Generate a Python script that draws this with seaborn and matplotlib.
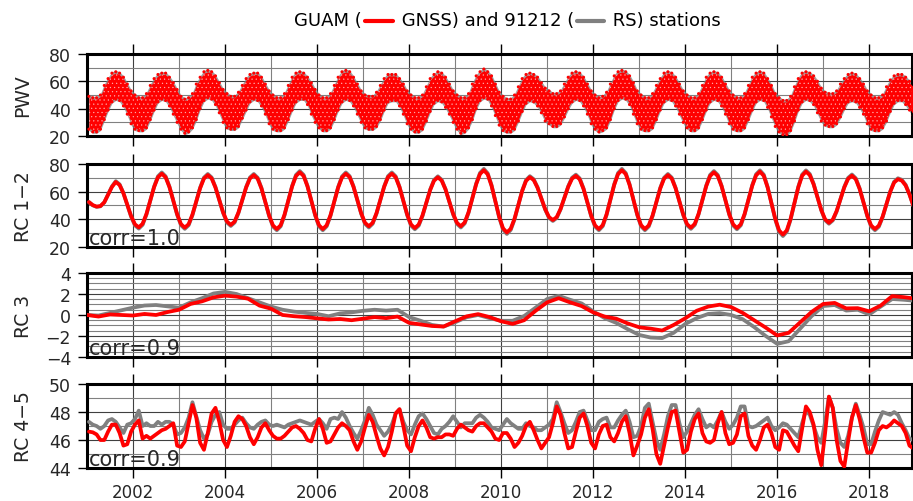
import numpy as np
import matplotlib
matplotlib.use("Agg")
import matplotlib.pyplot as plt
import seaborn as sns
from matplotlib.lines import Line2D
from matplotlib.ticker import MultipleLocator
from matplotlib.offsetbox import TextArea, DrawingArea, HPacker, AnchoredOffsetbox

# ---- data ----
# monthly values, one row per year 2001..2018 (mid-month samples)
pwv_gnss_lo = [
    [26,24,24,26,33,40,46,48,47,43,37,30], [26,25,25,27,33,40,46,48,47,43,37,31],
    [26,23,24,27,33,41,47,49,48,44,38,31], [27,26,26,28,34,40,46,48,47,43,37,30],
    [26,25,25,27,33,40,46,48,48,44,37,31], [27,25,25,27,33,40,46,48,47,43,37,31],
    [27,26,26,28,33,40,46,47,47,43,37,30], [26,24,24,26,32,39,45,47,46,42,37,31],
    [26,23,24,27,33,41,47,49,48,43,36,29], [25,24,24,26,32,39,45,47,46,43,38,32],
    [30,28,28,30,35,41,46,48,47,43,37,30], [26,24,25,27,33,41,47,49,48,44,37,30],
    [26,25,25,27,33,40,46,48,47,43,37,31], [27,25,25,27,33,40,46,48,47,43,37,30],
    [26,25,25,27,33,40,46,48,47,42,35,28], [24,22,22,25,32,40,46,48,47,44,38,32],
    [29,28,28,30,35,41,46,47,46,42,37,30], [26,25,25,27,32,39,45,47,47,44,40,36],
]
pwv_gnss_hi = [
    [48,47,47,49,56,61,65,66,65,62,57,52], [49,47,47,50,56,61,64,65,65,62,58,53],
    [48,46,47,50,57,62,66,67,66,63,58,53], [50,48,48,51,56,61,64,65,65,62,57,52],
    [49,47,47,50,56,62,65,66,65,62,58,53], [49,47,47,50,56,62,66,67,66,62,57,52],
    [49,48,48,51,56,61,64,64,64,61,57,52], [49,47,47,49,55,61,64,66,65,62,57,52],
    [49,47,47,50,57,63,66,68,66,63,57,51], [48,46,46,49,55,61,64,65,64,62,58,54],
    [52,50,50,52,57,62,65,66,65,62,57,52], [49,47,48,51,57,63,66,67,66,63,58,52],
    [49,47,47,50,56,61,65,66,65,62,57,52], [49,47,47,50,56,62,65,66,65,62,57,52],
    [49,47,47,50,56,62,65,66,65,61,56,50], [47,45,45,48,55,61,65,66,65,63,59,54],
    [51,50,50,52,57,61,64,65,64,61,57,52], [49,47,47,49,55,60,63,64,64,62,59,56],
]
pwv_rs_lo = [
    [24,22,22,24,31,38,44,46,45,41,35,28], [24,23,23,25,31,38,44,46,45,41,35,29],
    [24,21,22,25,31,39,45,47,46,42,36,29], [25,24,24,26,32,38,44,46,45,41,35,28],
    [24,23,23,25,31,38,44,46,46,42,35,29], [25,23,23,25,31,38,44,46,45,41,35,29],
    [25,24,24,26,31,38,44,45,45,41,35,28], [24,22,22,24,30,37,43,45,44,40,35,29],
    [24,21,22,25,31,39,45,47,46,41,34,27], [23,22,22,24,30,37,43,45,44,41,36,30],
    [28,26,26,28,33,39,44,46,45,41,35,28], [24,22,23,25,31,39,45,47,46,42,35,28],
    [24,23,23,25,31,38,44,46,45,41,35,29], [25,23,23,25,31,38,44,46,45,41,35,28],
    [24,23,23,25,31,38,44,46,45,40,33,26], [22,20,20,23,30,38,44,46,45,42,36,30],
    [27,26,26,28,33,39,44,45,44,40,35,28], [24,23,23,25,30,37,43,45,45,42,38,34],
]
pwv_rs_hi = [
    [50,49,49,51,58,63,67,68,67,64,59,54], [51,49,49,52,58,63,66,67,67,64,60,55],
    [50,48,49,52,59,64,68,69,68,65,60,55], [52,50,50,53,58,63,66,67,67,64,59,54],
    [51,49,49,52,58,64,67,68,67,64,60,55], [51,49,49,52,58,64,68,69,68,64,59,54],
    [51,50,50,53,58,63,66,66,66,63,59,54], [51,49,49,51,57,63,66,68,67,64,59,54],
    [51,49,49,52,59,65,68,70,68,65,59,53], [50,48,48,51,57,63,66,67,66,64,60,56],
    [54,52,52,54,59,64,67,68,67,64,59,54], [51,49,50,53,59,65,68,69,68,65,60,54],
    [51,49,49,52,58,63,67,68,67,64,59,54], [51,49,49,52,58,64,67,68,67,64,59,54],
    [51,49,49,52,58,64,67,68,67,63,58,52], [49,47,47,50,57,63,67,68,67,65,61,56],
    [53,52,52,54,59,63,66,67,66,63,59,54], [51,49,49,51,57,62,65,66,66,64,61,58],
]

rc12_gnss = [
    [52.5,50.3,49.2,49.6,52.3,57.8,63.4,67.0,64.8,58.8,50.6,42.4],
    [36.4,34.2,36.8,43.9,53.6,63.3,70.4,73.0,70.4,63.3,53.5,43.8],
    [36.6,34.0,36.5,43.5,53.0,62.5,69.5,72.0,69.6,63.0,54.0,45.0],
    [38.4,36.0,38.4,45.0,54.0,63.0,69.6,72.0,69.4,62.3,52.5,42.8],
    [35.6,33.0,35.7,43.3,53.5,63.8,71.3,74.0,71.3,63.8,53.5,43.3],
    [35.7,33.0,35.7,43.0,53.0,63.0,70.3,73.0,70.5,63.5,54.0,44.5],
    [37.5,35.0,37.5,44.5,54.0,63.5,70.5,73.0,70.4,63.2,53.4,43.5],
    [36.3,33.7,36.2,42.9,52.1,61.2,67.9,70.4,68.0,61.6,52.7,43.9],
    [37.4,35.0,37.7,45.1,55.3,65.4,72.8,75.5,72.5,64.3,53.0,41.8],
    [33.5,30.5,33.2,40.5,50.5,60.5,67.8,70.5,68.4,62.8,55.0,47.3],
    [41.6,39.5,41.6,47.5,55.5,63.5,69.4,71.5,68.9,61.9,52.3,42.6],
    [35.6,33.0,35.8,43.6,54.3,64.9,72.7,75.5,72.7,64.9,54.3,43.6],
    [35.8,33.0,35.6,42.8,52.5,62.3,69.4,72.0,69.5,62.5,53.0,43.5],
    [36.5,34.0,36.7,44.0,54.0,64.0,71.3,74.0,71.3,63.9,53.9,43.8],
    [36.4,33.7,36.4,43.9,54.1,64.3,71.8,74.5,71.5,63.1,51.8,40.4],
    [32.0,29.0,32.0,40.4,51.8,63.1,71.5,74.5,72.0,65.3,56.0,46.8],
    [40.0,37.5,39.8,46.0,54.6,63.1,69.3,71.6,69.0,62.0,52.3,42.7],
    [35.6,33.0,35.4,42.0,51.0,60.0,66.6,69.0,68.0,64.5,58.0,50.0],
]
rc12_rs = [
    [52.4,50.1,49.0,49.4,52.2,58.0,63.8,67.6,65.3,59.0,50.4,41.9],
    [35.6,33.3,36.0,43.4,53.6,63.7,71.1,73.9,71.1,63.7,53.5,43.3],
    [35.8,33.1,35.7,43.0,53.0,62.9,70.2,72.8,70.3,63.4,54.0,44.6],
    [37.7,35.2,37.7,44.6,54.0,63.4,70.3,72.8,70.1,62.7,52.4,42.3],
    [34.8,32.1,34.9,42.8,53.5,64.2,72.1,74.9,72.1,64.2,53.5,42.8],
    [34.9,32.1,34.9,42.5,53.0,63.4,71.0,73.9,71.2,63.9,54.0,44.1],
    [36.8,34.1,36.8,44.1,54.0,63.9,71.2,73.9,71.1,63.6,53.4,43.0],
    [35.5,32.8,35.4,42.4,52.0,61.5,68.5,71.1,68.6,61.9,52.6,43.4],
    [36.7,34.1,37.0,44.7,55.4,65.9,73.6,76.5,73.3,64.8,53.0,41.3],
    [32.6,29.4,32.3,39.9,50.3,60.8,68.4,71.2,69.0,63.2,55.0,47.0],
    [41.0,38.8,41.0,47.2,55.6,63.9,70.1,72.3,69.6,62.3,52.2,42.1],
    [34.8,32.1,35.0,43.1,54.3,65.4,73.5,76.5,73.5,65.4,54.3,43.1],
    [35.0,32.1,34.8,42.3,52.4,62.7,70.1,72.8,70.2,62.9,53.0,43.0],
    [35.7,33.1,35.9,43.6,54.0,64.5,72.1,74.9,72.1,64.3,53.9,43.3],
    [35.6,32.8,35.6,43.4,54.1,64.8,72.6,75.4,72.3,63.5,51.7,39.8],
    [31.0,27.9,31.0,39.8,51.7,63.5,72.3,75.4,72.8,65.8,56.1,46.5],
    [39.4,36.8,39.2,45.6,54.6,63.5,70.0,72.4,69.7,62.4,52.2,42.2],
    [34.8,32.1,34.6,41.5,50.9,60.3,67.2,69.7,68.6,65.0,58.2,49.8],
]

rc45_gnss = [
    [46.6,46.55,46.4,46.0,46.0,46.6,47.1,47.1,46.5,45.6,45.7,46.6],
    [47.1,47.4,46.1,46.3,46.1,46.3,46.5,46.7,46.8,47.0,47.2,45.6],
    [45.5,45.9,47.2,48.5,47.6,45.8,45.3,46.5,47.9,48.3,47.3,46.0],
    [45.5,46.3,47.3,47.7,47.5,47.0,46.2,45.7,46.2,46.9,47.2,46.7],
    [46.3,46.1,46.1,46.3,46.6,46.9,47.0,46.8,46.5,46.0,45.9,46.8],
    [47.5,46.8,45.8,45.9,46.4,46.9,47.2,47.0,46.7,45.9,45.3,45.9],
    [46.9,47.8,47.3,46.3,45.4,44.9,45.5,46.6,47.9,48.2,47.0,45.6],
    [45.2,46.2,47.0,47.4,46.9,46.2,46.1,46.2,46.2,46.4,46.4,46.3],
    [46.8,47.1,46.9,46.7,46.6,47.0,47.2,47.2,46.9,46.6,46.1,46.0],
    [46.5,46.5,46.1,45.5,45.8,46.3,47.0,47.3,46.7,46.0,45.4,45.8],
    [46.2,47.2,48.4,47.8,46.5,45.4,45.5,46.6,47.6,47.9,47.0,45.8],
    [45.4,46.4,47.0,47.1,46.2,45.9,46.5,47.3,47.7,46.5,44.9,45.6],
    [46.4,47.6,48.2,46.8,45.0,44.3,45.6,46.9,48.0,48.1,46.6,45.1],
    [45.3,46.6,47.5,47.9,46.5,45.9,45.8,46.0,47.2,48.0,46.5,45.7],
    [45.8,46.4,47.7,47.9,46.3,45.6,45.3,46.0,46.9,47.1,46.5,45.5],
    [45.3,46.7,46.6,46.1,45.6,45.2,46.8,48.4,48.0,47.1,45.3,44.2],
    [46.5,49.1,48.3,46.0,44.5,44.1,45.9,47.6,48.5,47.5,46.2,45.1],
    [45.1,45.8,46.7,47.0,46.9,47.1,47.4,47.2,47.0,46.5,45.6,45.4],
]
rc45_rs = [
    [47.3,47.1,47.0,46.8,47.0,47.4,47.5,47.3,46.9,46.5,47.1,47.2],
    [47.5,48.1,47.0,47.2,47.0,47.0,47.3,47.1,47.3,47.3,47.1,46.4],
    [46.5,46.9,47.6,48.7,47.7,46.7,46.1,46.4,47.3,47.8,48.0,47.1],
    [46.8,46.8,47.1,47.4,47.6,47.2,46.9,46.8,47.1,47.3,47.4,47.1],
    [47.0,47.1,47.0,46.9,47.1,47.2,47.3,47.4,47.3,47.2,47.1,47.3],
    [47.5,47.2,46.8,47.5,47.6,47.5,48.0,47.6,47.0,46.5,46.1,46.7],
    [47.4,48.3,47.8,47.1,46.7,46.3,46.6,47.1,47.9,48.2,47.3,46.7],
    [46.4,47.1,47.7,47.9,47.5,47.0,46.5,46.4,46.8,47.0,47.3,47.7],
    [47.3,46.9,47.2,47.2,47.2,47.6,47.8,47.6,47.3,46.9,46.8,46.7],
    [47.1,47.5,47.2,47.0,46.8,46.8,47.2,47.0,46.9,46.7,46.7,46.9],
    [47.1,47.5,48.7,48.0,47.2,46.5,46.7,47.3,48.0,48.1,47.4,46.7],
    [46.7,47.3,47.5,47.6,46.9,46.9,47.4,47.8,48.1,47.3,46.2,46.3],
    [47.0,48.3,48.6,47.3,46.0,45.3,46.4,47.7,48.5,48.5,47.2,46.2],
    [46.6,47.2,47.8,48.2,47.5,46.9,47.1,46.9,47.4,48.0,47.3,46.8],
    [47.1,47.6,48.4,48.4,47.0,46.9,47.0,47.2,47.4,47.6,47.0,46.7],
    [46.9,47.2,47.1,46.8,46.5,46.2,47.2,48.1,47.8,47.0,46.2,45.8],
    [47.3,49.1,48.3,46.8,45.8,45.5,46.3,47.6,48.6,47.8,46.9,45.7],
    [45.7,46.6,47.4,48.0,47.9,47.8,48.0,47.8,47.2,46.7,46.1,46.0],
]

# RC 3 sampled quarterly, 2001.00 .. 2019.00
rc3_gnss = [0.0, -0.15, 0.05, 0.0, -0.05, 0.1, 0.0, 0.28, 0.5, 1.05, 1.3, 1.68,
            1.84, 1.75, 1.55, 0.89, 0.6, 0.0, -0.12, -0.2, -0.32, -0.43, -0.38, -0.5,
            -0.35, -0.2, -0.3, -0.15, -0.75, -0.9, -1.05, -1.1, -0.6, -0.13, 0.08, -0.2,
            -0.6, -0.85, -0.5, 0.4, 1.2, 1.6, 1.2, 0.85, 0.25, -0.15, -0.35, -0.8,
            -1.17, -1.3, -1.48, -0.95, -0.32, 0.4, 0.8, 0.98, 0.75, 0.2, -0.5, -1.2,
            -1.95, -1.7, -0.7, 0.3, 1.05, 1.15, 0.63, 0.65, 0.35, 0.9, 1.8, 1.7, 1.55]
rc3_rs = [0.0, -0.05, 0.2, 0.45, 0.7, 0.9, 0.95, 0.82, 0.7, 1.2, 1.6, 2.05,
          2.2, 2.0, 1.6, 1.2, 0.8, 0.5, 0.32, 0.2, 0.1, -0.12, 0.15, 0.25,
          0.4, 0.5, 0.42, 0.5, -0.2, -0.55, -0.95, -1.1, -0.7, -0.22, 0.0, -0.3,
          -0.55, -0.55, -0.1, 0.7, 1.52, 1.82, 1.45, 1.1, 0.35, -0.3, -0.75, -1.35,
          -1.9, -2.15, -2.2, -1.7, -0.86, -0.3, 0.1, 0.18, 0.0, -0.4, -1.15, -2.0,
          -2.75, -2.5, -1.3, -0.1, 0.85, 0.95, 0.42, 0.5, 0.05, 0.8, 1.52, 1.45, 1.35]

corr_labels = ["corr=1.0", "corr=0.9", "corr=0.9"]
panel_labels = ["PWV", "RC 1\u22122", "RC 3", "RC 4\u22125"]

t_month = 2001 + (np.arange(216) + 0.5) / 12
t_quarter = 2001 + np.arange(73) * 0.25

RED = "#ff0000"
GREY = "#808080"

sns.set_style("white")
plt.rcParams["font.family"] = ["DejaVu Sans"]
plt.rcParams["hatch.linewidth"] = 0.35

fig = plt.figure(figsize=(9.13, 5.02), dpi=100)
rects = [
    (0.0953, 0.7271, 0.9036, 0.1633),
    (0.0953, 0.5060, 0.9036, 0.1653),
    (0.0953, 0.2869, 0.9036, 0.1673),
    (0.0953, 0.0657, 0.9036, 0.1673),
]
axes = [fig.add_axes(r) for r in rects]

# PWV: dense daily scatter shown as its monthly spread
ax = axes[0]
ax.fill_between(t_month, np.ravel(pwv_rs_lo), np.ravel(pwv_rs_hi),
                color=GREY, lw=0, alpha=0.75, zorder=2)
ax.fill_between(t_month, np.ravel(pwv_gnss_lo), np.ravel(pwv_gnss_hi),
                color=RED, lw=0, zorder=3)
ax.fill_between(t_month, np.ravel(pwv_gnss_lo), np.ravel(pwv_gnss_hi),
                facecolor="none", edgecolor="#ffb0b0", hatch="....", lw=0, zorder=3.5)
sns.scatterplot(x=t_month, y=np.ravel(pwv_gnss_hi) + 1, color=RED, s=5,
                edgecolor="none", ax=ax, zorder=4)
sns.scatterplot(x=t_month, y=np.ravel(pwv_gnss_lo) - 1, color=RED, s=5,
                edgecolor="none", ax=ax, zorder=4)

# RC lines
series = [
    (axes[1], t_month, rc12_rs, rc12_gnss),
    (axes[2], t_quarter, rc3_rs, rc3_gnss),
    (axes[3], t_month, rc45_rs, rc45_gnss),
]
for ax, t, rs, gn in series:
    sns.lineplot(x=t, y=np.ravel(rs), color=GREY, lw=2.7, ax=ax, zorder=3)
    sns.lineplot(x=t, y=np.ravel(gn), color=RED, lw=2.7, ax=ax, zorder=4)

ylims = [(20, 80), (20, 80), (-4, 4), (44, 50)]
ymaj = [20, 20, 2, 2]
ymin = [10, 10, 0.5, 1]

for i, ax in enumerate(axes):
    ax.set_xlim(2001.0, 2018.93)
    ax.set_ylim(*ylims[i])
    ax.xaxis.set_major_locator(MultipleLocator(2))
    ax.xaxis.set_minor_locator(MultipleLocator(1))
    ax.yaxis.set_major_locator(MultipleLocator(ymaj[i]))
    ax.yaxis.set_minor_locator(MultipleLocator(ymin[i]))
    ax.grid(which="major", color="0.25", lw=0.8, zorder=0)
    ax.grid(which="minor", color="0.5", lw=0.8, zorder=0)
    ax.set_axisbelow(True)
    for s in ax.spines.values():
        s.set_visible(True)
        s.set_color("black")
        s.set_linewidth(2.2)
    ax.tick_params(axis="x", which="major", direction="out", length=7, width=1,
                   top=True, bottom=True, labelbottom=(i == 3), labelsize=12, color="black")
    ax.tick_params(axis="both", which="minor", length=0)
    ax.tick_params(axis="y", which="major", direction="out", length=6.5, width=1,
                   left=True, labelsize=12.5, pad=5, color="black")
    ax.set_ylabel(panel_labels[i], fontsize=13.5)
    ax.yaxis.set_label_coords(-0.066, 0.5)
    ax.set_xlabel("")
    if i > 0:
        ax.text(0.002, 0.035, corr_labels[i - 1], transform=ax.transAxes,
                fontsize=15, ha="left", va="baseline", zorder=6)

axes[3].set_xticks([2002, 2004, 2006, 2008, 2010, 2012, 2014, 2016, 2018])
axes[3].set_xticklabels(["2002", "2004", "2006", "2008", "2010", "2012", "2014", "2016", "2018"])


def key_line(color):
    da = DrawingArea(20, 10, 0, 0)
    da.add_artist(Line2D([0, 20], [4, 4], color=color, lw=3))
    return da


tp = dict(fontsize=13, color="black")
box = HPacker(children=[TextArea("GUAM (", textprops=tp), key_line(RED),
                        TextArea(" GNSS) and 91212 (", textprops=tp), key_line(GREY),
                        TextArea(" RS) stations", textprops=tp)],
              align="center", pad=0, sep=2)
title = AnchoredOffsetbox(loc="center", child=box, pad=0, borderpad=0, frameon=False,
                          bbox_to_anchor=(0.556, 0.958), bbox_transform=fig.transFigure)
fig.add_artist(title)

fig.savefig("out.png", dpi=100)
